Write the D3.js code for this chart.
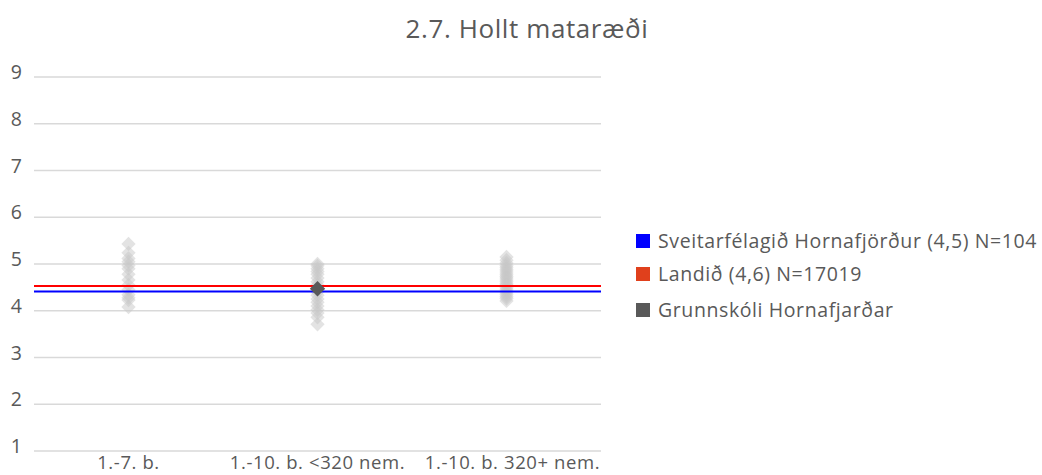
<!DOCTYPE html>
<html><head><meta charset="utf-8">
<script src="https://cdn.jsdelivr.net/npm/d3@7"></script>
<style>body{margin:0;background:#fff}svg{display:block}text{font-family:"Open Sans",Lato,sans-serif}</style>
</head><body><svg id="c" width="1042" height="475"></svg>
<script>
const title = "2.7. Hollt mataræði";
const categories = ["1.-7. b.", "1.-10. b. <320 nem.", "1.-10. b. 320+ nem."];
const yTicks = [1,2,3,4,5,6,7,8,9];
const schoolsCat1 = [5.43,5.24,5.12,5.05,4.97,4.9,4.78,4.66,4.55,4.45,4.34,4.28,4.23,4.08];
const schoolsCat2 = [5.0,4.96,4.9,4.84,4.78,4.7,4.62,4.55,4.48,4.4,4.33,4.25,4.18,4.1,4.02,3.95,3.86,3.71];
const schoolsCat3 = [5.15,5.08,5.02,4.97,4.93,4.89,4.85,4.81,4.77,4.73,4.7,4.66,4.62,4.58,4.55,4.5,4.46,4.42,4.38,4.34,4.3,4.26,4.21];
const highlight = {cat: 1, value: 4.47, name: "Grunnskóli Hornafjarðar"};
const refSveitarfelag = 4.41;
const refLandid = 4.53;
const legendLabels = ["Sveitarfélagið Hornafjörður (4,5) N=104", "Landið (4,6) N=17019", "Grunnskóli Hornafjarðar"];
const legendColors = ["#0000ff", "#e0401c", "#595959"];

const svg = d3.select("#c");
const x = d3.scaleBand().domain(categories).range([34, 601]);
const y = d3.scaleLinear().domain([1, 9]).range([451, 77]);

svg.append("text").attr("x", 527).attr("y", 38).attr("text-anchor", "middle")
  .attr("font-size", 26).attr("letter-spacing", 0.6).attr("fill", "#595959").text(title);

const g = svg.append("g");
g.selectAll("line.grid").data(yTicks).join("line")
  .attr("x1", 34).attr("x2", 601).attr("y1", d => y(d)).attr("y2", d => y(d))
  .attr("stroke", "#d9d9d9").attr("stroke-width", 1.5);
g.selectAll("text.yl").data(yTicks).join("text")
  .attr("x", 22).attr("y", d => y(d) + 2).attr("text-anchor", "end")
  .attr("font-size", 19.5).attr("fill", "#595959").text(d => d);
g.selectAll("text.xl").data(categories).join("text")
  .attr("x", d => x(d) + x.bandwidth()/2 + (d === categories[2] ? 6 : 0)).attr("y", 469).attr("text-anchor", "middle")
  .attr("font-size", 18.5).attr("letter-spacing", 0.6).attr("fill", "#595959").text(d => d);

const pts = [];
[schoolsCat1, schoolsCat2, schoolsCat3].forEach((arr, i) => arr.forEach(v => pts.push({c: categories[i], v})));
const diamond = d3.symbol().type(d3.symbolDiamond2).size(130);
g.selectAll("path.pt").data(pts).join("path")
  .attr("transform", d => `translate(${x(d.c) + x.bandwidth()/2},${y(d.v)})`)
  .attr("d", diamond).attr("fill", "#c8c8c8").attr("fill-opacity", 0.5);

g.append("line").attr("x1", 34).attr("x2", 601).attr("y1", y(refLandid)).attr("y2", y(refLandid))
  .attr("stroke", "#ff0000").attr("stroke-width", 2);
g.append("line").attr("x1", 34).attr("x2", 601).attr("y1", y(refSveitarfelag)).attr("y2", y(refSveitarfelag))
  .attr("stroke", "#0000ff").attr("stroke-width", 2);

g.append("path").attr("transform", `translate(${x(categories[highlight.cat]) + x.bandwidth()/2},${y(highlight.value)})`)
  .attr("d", d3.symbol().type(d3.symbolDiamond2).size(150)).attr("fill", "#595959");

const lg = svg.append("g");
const legendY = [241, 274, 310];
legendLabels.forEach((t, i) => {
  const cy = legendY[i];
  lg.append("rect").attr("x", 636).attr("y", cy - 7).attr("width", 14).attr("height", 14).attr("fill", legendColors[i]);
  lg.append("text").attr("x", 658).attr("y", cy + 7).attr("font-size", 19.5).attr("letter-spacing", 0.6)
    .attr("fill", "#595959").text(t);
});
</script></body></html>
